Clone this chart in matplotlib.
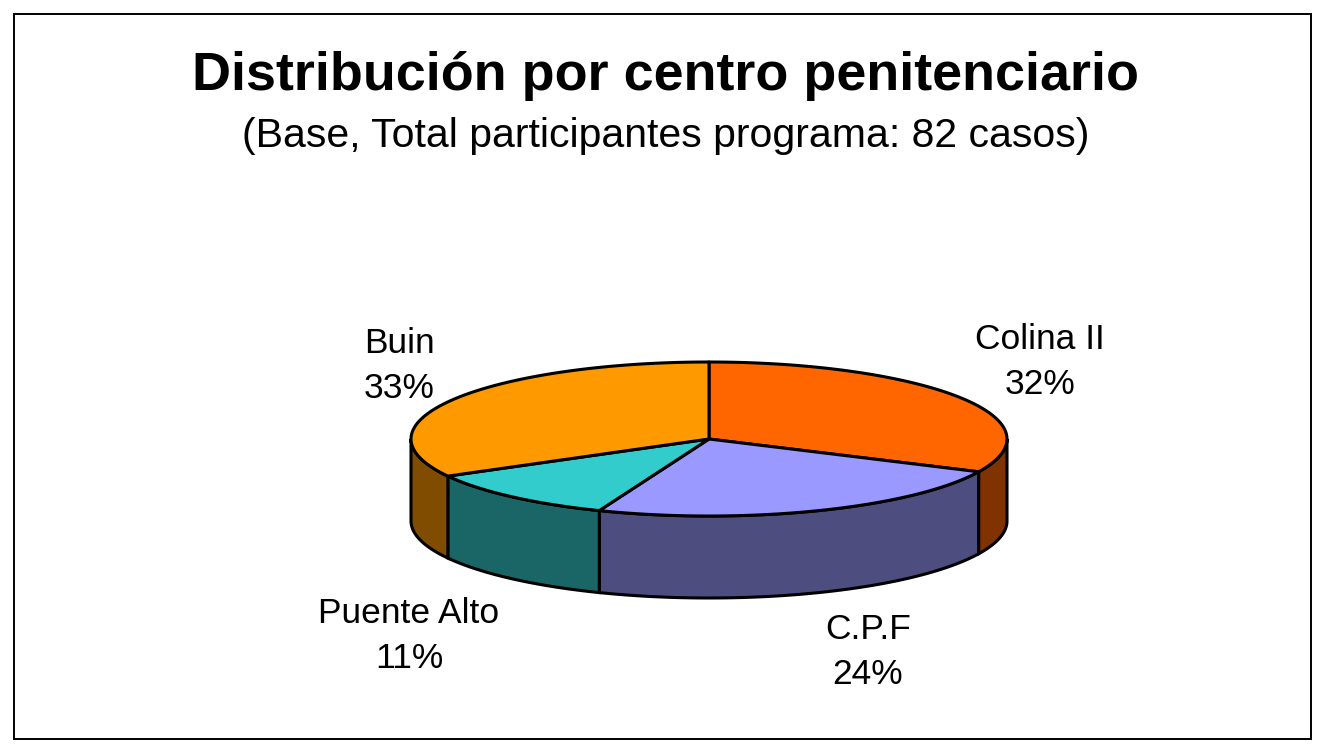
"""
Distribución por centro penitenciario - pie 3D
"""
import numpy as np
import matplotlib.pyplot as plt
from matplotlib.patches import Polygon, Rectangle

centros = ["Colina II", "C.P.F", "Puente Alto", "Buin"]
porcentajes = [32, 24, 11, 33]
colores_top = ["#FF6600", "#9999FF", "#33CCCC", "#FF9900"]
colores_lado = ["#803300", "#4D4D80", "#1A6666", "#7F4C00"]

W, H = 1328, 753
cx, cy = 709, 439      # centro de la elipse (pixeles)
rx, ry = 298, 77
prof = 82              # altura del cilindro
# posiciones de las etiquetas
pos_etq = [(1040, 362), (868, 652), (409, 636), (399, 366)]

fig = plt.figure(figsize=(W / 100, H / 100), dpi=100)
ax = fig.add_axes([0, 0, 1, 1])
ax.set_xlim(0, W)
ax.set_ylim(H, 0)
ax.axis('off')

plt.rcParams['font.family'] = ['Liberation Sans', 'DejaVu Sans']


def arco(a1, a2, dy=0, n=80):
    t = np.radians(np.linspace(a1, a2, n))
    return np.column_stack([cx + rx * np.cos(t), cy - ry * np.sin(t) + dy])


frac = np.array(porcentajes, dtype=float) / sum(porcentajes)
lim = 90 - 360 * np.concatenate([[0], np.cumsum(frac)])

# paredes laterales (mitad frontal)
for i in range(len(centros)):
    hi = min(lim[i], 0)
    lo = max(lim[i + 1], -180)
    if hi <= lo:
        continue
    sup = arco(hi, lo)
    inf = arco(lo, hi, dy=prof)
    ax.add_patch(Polygon(np.vstack([sup, inf]), closed=True,
                         facecolor=colores_lado[i], edgecolor='black', lw=2.2))

# cara superior
for i in range(len(centros)):
    pts = np.vstack([[cx, cy], arco(lim[i], lim[i + 1])])
    ax.add_patch(Polygon(pts, closed=True, facecolor=colores_top[i],
                         edgecolor='black', lw=2.2, joinstyle='round'))

for i, (x, y) in enumerate(pos_etq):
    ax.text(x, y, f"{centros[i]}\n{porcentajes[i]}%", ha='center', va='center',
            fontsize=25.5, linespacing=1.45)

ax.text(665, 76, "Distribución por centro penitenciario", ha='center', va='center',
        fontsize=38.8, fontweight='bold')
ax.text(666, 136, "(Base, Total participantes programa: 82 casos)", ha='center',
        va='center', fontsize=29.5)

ax.add_patch(Rectangle((14, 14), 1297, 725, fill=False, edgecolor='black', lw=1.4))

plt.savefig("out.png", dpi=100)
